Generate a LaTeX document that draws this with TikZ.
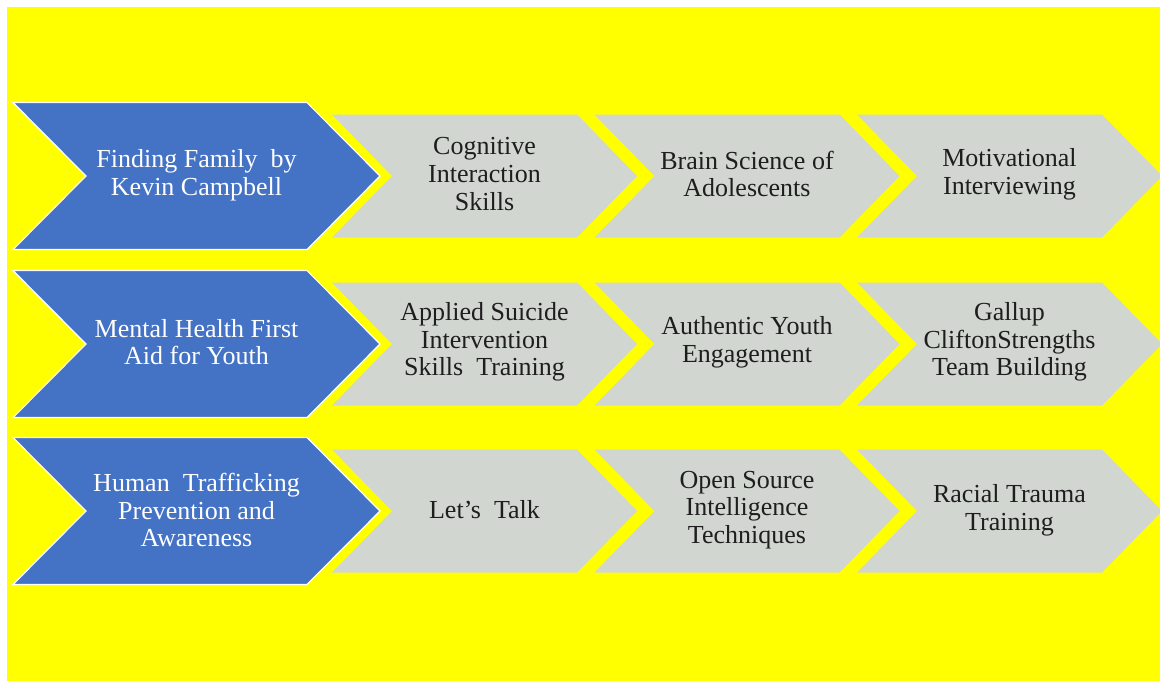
\documentclass[tikz,border=0pt]{standalone}
\usepackage{fontspec}
\setmainfont{Liberation Serif}
\usepackage{xcolor}

\definecolor{bgyellow}{HTML}{FFFF00}
\definecolor{stepblue}{HTML}{4472C4}
\definecolor{stepgray}{HTML}{D1D6D0}
\definecolor{textdark}{HTML}{1E1E1E}

\begin{document}
\begin{tikzpicture}[x=0.5pt, y=-0.5pt,
	bluetext/.style={align=center, text=white, font=\fontsize{13}{13.8}\selectfont},
	graytext/.style={align=center, text=textdark, font=\fontsize{13}{13.8}\selectfont}]
	\useasboundingbox (0,0) rectangle (1160,681);
	\fill[bgyellow] (7,7) rectangle (1160,681);

	% Draw the chevrons of each row
	\foreach \c in {176, 344, 511} {
		\fill[stepblue, draw=white, line width=0.6pt] (13,\c-73.5) -- (307,\c-73.5) -- (380,\c) -- (307,\c+73.5) -- (13,\c+73.5) -- (86,\c) -- cycle;
		\foreach \i in {0,1,2} {
			\pgfmathsetmacro{\L}{332+262.5*\i}
			\fill[stepgray] (\L,\c-61.5) -- (\L+245,\c-61.5) -- (\L+305,\c) -- (\L+245,\c+61.5) -- (\L,\c+61.5) -- (\L+60,\c) -- cycle;
		}
	}

	% First row
	\node[bluetext] (finding) at (196.5,175) {Finding Family\ \ by\\Kevin Campbell};
	\node[graytext] (cognitive) at (484.5,174) {Cognitive\\Interaction\\Skills};
	\node[graytext] (brain) at (747,174) {Brain Science of\\Adolescents};
	\node[graytext] (motivational) at (1009.5,174) {Motivational\\Interviewing};

	% Second row
	\node[bluetext] (mental) at (196.5,342) {Mental Health First\\Aid for Youth};
	\node[graytext] (suicide) at (484.5,342) {Applied Suicide\\Intervention\\Skills\ \ Training};
	\node[graytext] (youth) at (747,342) {Authentic Youth\\Engagement};
	\node[graytext] (gallup) at (1009.5,342) {Gallup\\CliftonStrengths\\Team Building};

	% Third row
	\node[bluetext] (trafficking) at (196.5,510) {Human\ \ Trafficking\\Prevention and\\Awareness};
	\node[graytext] (talk) at (484.5,510) {Let's\ \ Talk};
	\node[graytext] (intelligence) at (747,510) {Open Source\\Intelligence\\Techniques};
	\node[graytext] (racial) at (1009.5,510) {Racial Trauma\\Training};
\end{tikzpicture}
\end{document}
